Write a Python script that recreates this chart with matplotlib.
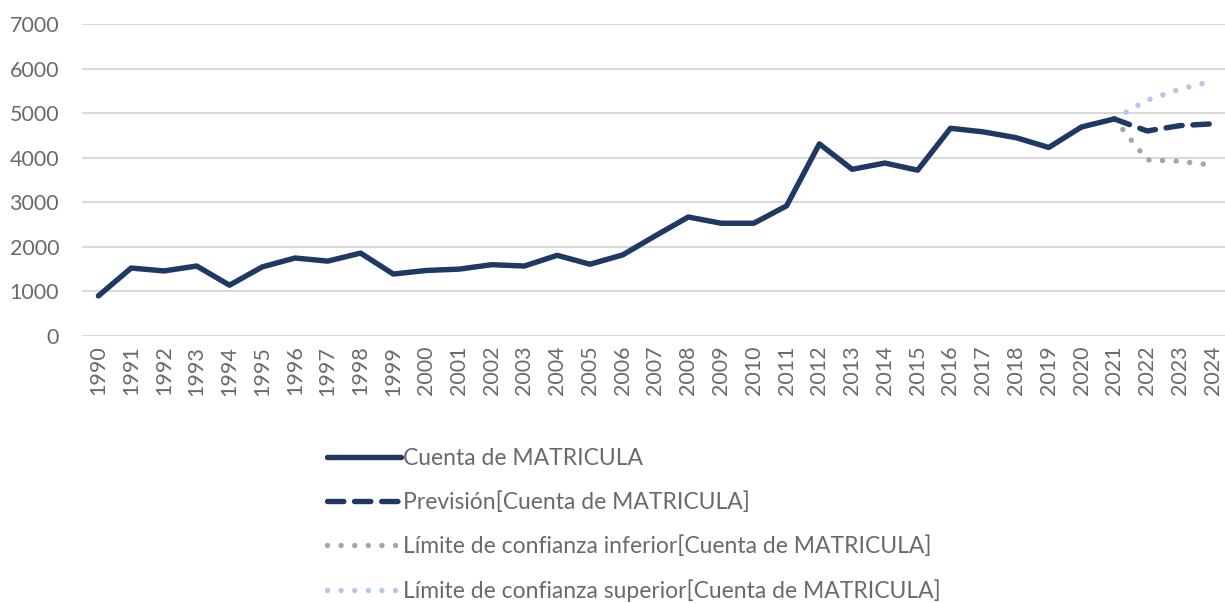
import matplotlib.pyplot as plt
import numpy as np

# Datos
anios = [str(a) for a in range(1990, 2025)]
matricula = [900, 1525, 1460, 1570, 1140, 1550, 1750, 1680, 1860, 1390,
             1470, 1500, 1600, 1570, 1810, 1610, 1820, 2250, 2670, 2530,
             2530, 2920, 4310, 3740, 3880, 3720, 4660, 4580, 4450, 4230,
             4690, 4870]
anios_prev = ['2021', '2022', '2023', '2024']
prevision = [4870, 4600, 4720, 4760]
lim_inferior = [4870, 3950, 3920, 3830]
lim_superior = [4870, 5290, 5540, 5720]

azul = '#203864'
gris = '#A5A5A5'
azul_claro = '#B4C7E7'
texto = '#6A6A6A'

plt.rcParams['font.family'] = ['Lato', 'DejaVu Sans']

fig = plt.figure(figsize=(12.25, 6.03), dpi=100)
ax = fig.add_axes([82 / 1225, 1 - 336 / 603, (1229 - 82) / 1225, (336 - 24) / 603])

x = np.arange(len(anios))
x_prev = np.array([anios.index(a) for a in anios_prev])

ax.plot(x[:len(matricula)], matricula, color=azul, lw=3.9, solid_joinstyle='round',
        solid_capstyle='round', label='Cuenta de MATRICULA', zorder=4)
ax.plot(x_prev, prevision, color=azul, lw=3.9, linestyle=(0, (3, 2.0)),
        dash_capstyle='round', label='Previsión[Cuenta de MATRICULA]', zorder=4)
ax.plot(x_prev, lim_inferior, color=gris, lw=3.9, linestyle=(0, (0.01, 2.5)),
        dash_capstyle='round', label='Límite de confianza inferior[Cuenta de MATRICULA]', zorder=3)
ax.plot(x_prev, lim_superior, color=azul_claro, lw=3.9, linestyle=(0, (0.01, 2.5)),
        dash_capstyle='round', label='Límite de confianza superior[Cuenta de MATRICULA]', zorder=3)

ax.set_xlim(-0.5, 34.5)
ax.set_ylim(0, 7000)
ax.set_yticks(range(0, 7001, 1000))
ax.set_xticks(x)
ax.set_xticklabels(anios, rotation=90)
ax.tick_params(axis='both', length=0, labelsize=15.5, labelcolor=texto)
ax.tick_params(axis='y', pad=16.5)
ax.tick_params(axis='x', pad=7)

ax.grid(axis='y', color='#D9D9D9', lw=1.5)
ax.set_axisbelow(True)
for s in ax.spines.values():
    s.set_visible(False)

leg = fig.legend(loc='upper left', bbox_to_anchor=(318 / 1225, 1 - 439 / 603),
                 frameon=False, fontsize=16.5, handlelength=3.2, handletextpad=0.1,
                 labelspacing=0.97, borderaxespad=0)
for t in leg.get_texts():
    t.set_color(texto)

fig.savefig('out.png', dpi=100)
